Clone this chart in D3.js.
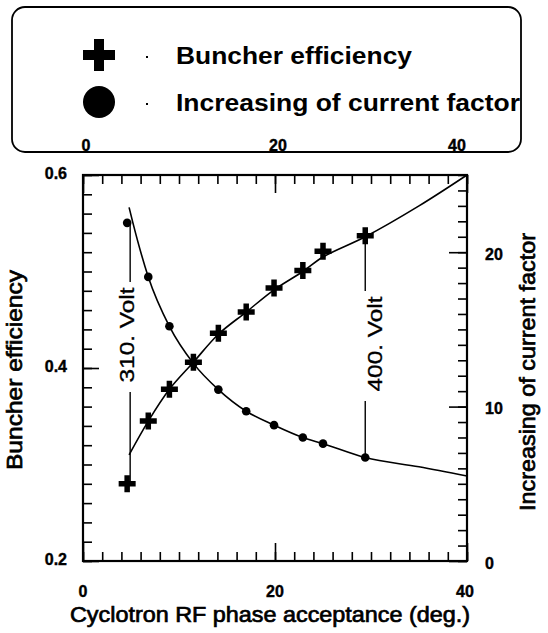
<!DOCTYPE html>
<html>
<head>
<meta charset="utf-8">
<script src="https://cdn.jsdelivr.net/npm/d3@7"></script>
<style>
  html, body { margin: 0; padding: 0; background: #fff; }
  svg { display: block; }
  text { font-family: "Liberation Sans", Arial, Helvetica, sans-serif; fill: #000; }
</style>
</head>
<body>
<svg id="chart" width="548" height="633"></svg>
<script>
// Measured points: RF phase acceptance (deg.)
const phase = [4.6, 6.8, 9.0, 11.5, 14.1, 17.0, 19.9, 22.9, 25.0, 29.4];
// Buncher efficiency at each phase (left axis)
const efficiency = [0.280, 0.345, 0.378, 0.406, 0.436, 0.458, 0.483, 0.501, 0.521, 0.537];
// Increasing of current factor at each phase (right axis)
const currentFactor = [21.9, 18.4, 15.2, 12.8, 11.1, 9.7, 8.8, 8.0, 7.6, 6.7];

// Fitted curves
const effFitPhase = [4.8, 6.8, 9.0, 11.5, 14.1, 17.0, 19.9, 22.9, 25.0, 29.4, 35, 40];
const effFit = [0.310, 0.345, 0.378, 0.406, 0.435, 0.458, 0.481, 0.500, 0.515, 0.536, 0.568, 0.600];
const curFitPhase = [4.8, 5.2, 6.8, 9.0, 11.5, 14.1, 17.0, 19.9, 22.9, 25.0, 29.4, 35, 40];
const curFit = [22.9, 21.9, 18.4, 15.2, 12.8, 11.1, 9.7, 8.8, 8.0, 7.6, 6.7, 6.1, 5.5];

// Tick labels
const xTickLabels = [0, 20, 40];
const yLeftTickLabels = [0.2, 0.4, 0.6];
const yRightTickLabels = [0, 10, 20];

// Voltage annotations: [phase index, label]
const annotations = [
  { idx: 0, label: "310. Volt" },
  { idx: 9, label: "400. Volt" }
];

const legendItems = ["Buncher efficiency", "Increasing of current factor"];

const svg = d3.select("#chart");
const frame = { left: 83, right: 467, top: 175, bottom: 561 };

const x = d3.scaleLinear().domain([0, 40]).range([frame.left, frame.right]);
const yL = d3.scaleLinear().domain([0.2, 0.6]).range([frame.bottom, frame.top]);
const yR = d3.scaleLinear().domain([0, 25]).range([frame.bottom, frame.top]);

const MINOR = 9, MAJOR = 18;

// ---- axes (ticks pointing inward) ----
function tickStyle(g) {
  g.select(".domain").remove();
  g.selectAll(".tick text").remove();
  g.selectAll(".tick line").attr("stroke", "#000").attr("stroke-width", 1.6);
}
const xMinor = d3.range(0, 41, 2);
const xMajor = [0, 20, 40];

svg.append("g").attr("transform", `translate(0,${frame.bottom})`)
  .call(d3.axisTop(x).tickValues(xMinor).tickSizeOuter(0)
    .tickSize(MINOR)).call(tickStyle);
svg.append("g").attr("transform", `translate(0,${frame.bottom})`)
  .call(d3.axisTop(x).tickValues(xMajor).tickSizeOuter(0).tickSize(MAJOR)).call(tickStyle);
svg.append("g").attr("transform", `translate(0,${frame.top})`)
  .call(d3.axisBottom(x).tickValues(xMinor).tickSizeOuter(0).tickSize(MINOR)).call(tickStyle);
svg.append("g").attr("transform", `translate(0,${frame.top})`)
  .call(d3.axisBottom(x).tickValues(xMajor).tickSizeOuter(0).tickSize(MAJOR)).call(tickStyle);

const yLMinor = d3.range(0, 21).map(i => 0.2 + i * 0.02);
svg.append("g").attr("transform", `translate(${frame.left},0)`)
  .call(d3.axisRight(yL).tickValues(yLMinor).tickSizeOuter(0).tickSize(MINOR)).call(tickStyle);
svg.append("g").attr("transform", `translate(${frame.left},0)`)
  .call(d3.axisRight(yL).tickValues(yLeftTickLabels).tickSizeOuter(0).tickSize(16)).call(tickStyle);

const yRMinor = d3.range(0, 26);
svg.append("g").attr("transform", `translate(${frame.right},0)`)
  .call(d3.axisLeft(yR).tickValues(yRMinor).tickSizeOuter(0).tickSize(MINOR)).call(tickStyle);
svg.append("g").attr("transform", `translate(${frame.right},0)`)
  .call(d3.axisLeft(yR).tickValues(yRightTickLabels).tickSizeOuter(0).tickSize(MAJOR)).call(tickStyle);

// frame
svg.append("rect")
  .attr("x", frame.left).attr("y", frame.top)
  .attr("width", frame.right - frame.left).attr("height", frame.bottom - frame.top)
  .attr("fill", "none").attr("stroke", "#000").attr("stroke-width", 2.2);

// ---- tick labels ----
const tickFont = "bold 16px 'Liberation Sans', Arial, sans-serif";
svg.append("g").selectAll("text").data(xTickLabels).join("text")
  .attr("x", d => x(d) + (d === 40 ? -2 : 0)).attr("y", 597)
  .attr("text-anchor", "middle").style("font", tickFont)
  .style("stroke", "#000").style("stroke-width", 0.4).text(d => d);
svg.append("g").selectAll("text").data(xTickLabels).join("text")
  .attr("x", d => x(d) + (d === 0 ? 3 : d === 40 ? -10 : 3)).attr("y", 151)
  .attr("text-anchor", "middle").style("font", tickFont)
  .style("stroke", "#000").style("stroke-width", 0.4).text(d => d);
svg.append("g").selectAll("text").data(yLeftTickLabels).join("text")
  .attr("x", 67).attr("y", d => yL(d) - 2).attr("dy", "0.35em")
  .attr("text-anchor", "end").style("font", tickFont)
  .style("stroke", "#000").style("stroke-width", 0.4).text(d => d3.format(".1f")(d));
svg.append("g").selectAll("text").data(yRightTickLabels).join("text")
  .attr("x", 485).attr("y", d => yR(d) + 2).attr("dy", "0.35em")
  .attr("text-anchor", "start").style("font", tickFont)
  .style("stroke", "#000").style("stroke-width", 0.4).text(d => d);

// ---- axis titles ----
svg.append("text").attr("x", 270).attr("y", 622).attr("text-anchor", "middle")
  .attr("textLength", 400).attr("lengthAdjust", "spacingAndGlyphs")
  .style("font-size", "22px").style("stroke", "#000").style("stroke-width", 0.7)
  .text("Cyclotron RF phase acceptance (deg.)");
svg.append("text").attr("transform", "translate(22,370) rotate(-90)")
  .attr("text-anchor", "middle")
  .attr("textLength", 200).attr("lengthAdjust", "spacingAndGlyphs")
  .style("font-size", "22px").style("stroke", "#000").style("stroke-width", 0.7)
  .text("Buncher efficiency");
svg.append("text").attr("transform", "translate(535,372) rotate(-90)")
  .attr("text-anchor", "middle")
  .attr("textLength", 278).attr("lengthAdjust", "spacingAndGlyphs")
  .style("font-size", "22px").style("stroke", "#000").style("stroke-width", 0.7)
  .text("Increasing of current factor");

// ---- fitted curves ----
const effLine = d3.line().x(d => x(d[0])).y(d => yL(d[1])).curve(d3.curveCatmullRom.alpha(0.5));
const curLine = d3.line().x(d => x(d[0])).y(d => yR(d[1])).curve(d3.curveMonotoneX);
svg.append("path").datum(d3.zip(effFitPhase, effFit)).attr("d", effLine)
  .attr("fill", "none").attr("stroke", "#000").attr("stroke-width", 1.6);
svg.append("path").datum(d3.zip(curFitPhase, curFit)).attr("d", curLine)
  .attr("fill", "none").attr("stroke", "#000").attr("stroke-width", 1.6);

// ---- voltage annotations ----
annotations.forEach((a, i) => {
  const px = x(phase[a.idx]) + (i === 0 ? 3 : 0);
  const yTopVal = i === 0 ? yR(currentFactor[a.idx]) : yL(efficiency[a.idx]);
  const yBotVal = i === 0 ? yL(efficiency[a.idx]) : yR(currentFactor[a.idx]);
  const mid = i === 0 ? 335 : 344;
  const half = 48;
  const gap = 10;
  svg.append("line").attr("x1", px).attr("x2", px)
    .attr("y1", yTopVal).attr("y2", mid - half - gap / 2)
    .attr("stroke", "#000").attr("stroke-width", 1.4);
  svg.append("line").attr("x1", px).attr("x2", px)
    .attr("y1", mid + half + gap / 2 + 4).attr("y2", yBotVal)
    .attr("stroke", "#000").attr("stroke-width", 1.4);
  const tx = i === 0 ? px - 4 : px + 9;
  svg.append("text")
    .attr("transform", `translate(${tx},${mid}) rotate(-90)`)
    .attr("text-anchor", "middle").attr("dominant-baseline", "central")
    .attr("textLength", 95).attr("lengthAdjust", "spacingAndGlyphs")
    .style("font-size", "21px").style("stroke", "#000").style("stroke-width", 0.3)
    .text(a.label);
});

// ---- markers ----
const crossPath = (s, t) => {
  const h = s / 2, w = t / 2;
  return `M${-w},${-h}H${w}V${-w}H${h}V${w}H${w}V${h}H${-w}V${w}H${-h}V${-w}H${-w}Z`;
};
svg.append("g").selectAll("circle").data(d3.zip(phase, currentFactor)).join("circle")
  .attr("cx", d => x(d[0])).attr("cy", d => yR(d[1])).attr("r", 4.3).attr("fill", "#000");
svg.append("g").selectAll("path").data(d3.zip(phase, efficiency)).join("path")
  .attr("transform", d => `translate(${x(d[0])},${yL(d[1])})`)
  .attr("d", crossPath(17, 5.5)).attr("fill", "#000");

// ---- legend ----
const legend = svg.append("g");
legend.append("rect").attr("x", 12).attr("y", 7).attr("width", 509).attr("height", 145)
  .attr("rx", 13).attr("fill", "#fff").attr("fill-opacity", 0)
  .attr("stroke", "#000").attr("stroke-width", 1.8);
legend.append("path").attr("transform", "translate(99,55)")
  .attr("d", crossPath(32, 10)).attr("fill", "#000");
legend.append("circle").attr("cx", 99).attr("cy", 102).attr("r", 16).attr("fill", "#000");
legend.selectAll("rect.dot").data([57, 104]).join("rect").attr("class", "dot")
  .attr("x", 146).attr("y", d => d - 1).attr("width", 2).attr("height", 2).attr("fill", "#000");
legend.selectAll("text").data(legendItems).join("text")
  .attr("x", 176).attr("y", (d, i) => 64 + i * 47)
  .attr("textLength", (d, i) => i === 0 ? 236 : 344).attr("lengthAdjust", "spacingAndGlyphs")
  .style("font", "bold 23px 'Liberation Sans', Arial, sans-serif")
  .text(d => d);
</script>
</body>
</html>
